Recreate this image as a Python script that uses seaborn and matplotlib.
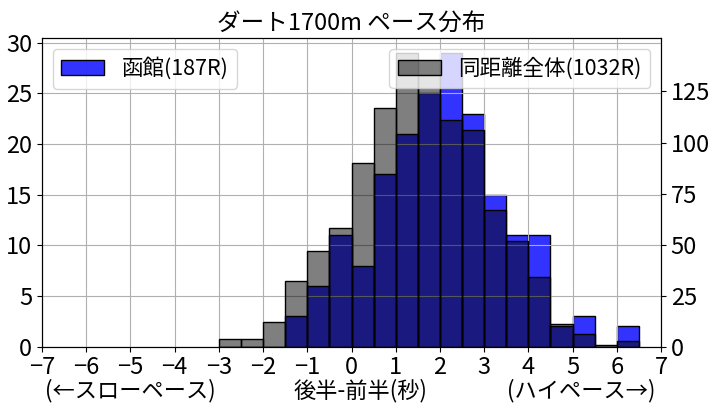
import numpy as np
import pandas as pd
import matplotlib
matplotlib.use("Agg")
import matplotlib.pyplot as plt
import seaborn as sns

# histogram bins (seconds, 後半-前半): width 0.5 from -3 to 6.5
bin_start = -3.0
bin_end = 6.5
bin_width = 0.5
# 函館 (187R) counts per bin
hakodate_counts = [0, 0, 0, 3, 6, 11, 8, 17, 21, 25, 29, 23, 15, 11, 11, 2, 3, 0, 2]
# 同距離全体 (1032R) counts per bin
all_counts = [4, 4, 12, 32, 47, 58, 90, 117, 144, 133, 111, 106, 67, 52, 34, 11, 6, 1, 3]

label_local = "函館(187R)"
label_all = "同距離全体(1032R)"
title = "ダート1700m ペース分布"
xlabel_mid = "後半-前半(秒)"
xlabel_left = "(←スローペース)"
xlabel_right = "(ハイペース→)"
xticks = list(range(-7, 8))
left_ticks = [0, 5, 10, 15, 20, 25, 30]
right_ticks = [0, 25, 50, 75, 100, 125]

fams = ['Liberation Sans Narrow', 'Noto Sans CJK JP', 'DejaVu Sans']
plt.rcParams['font.family'] = fams
plt.rcParams['axes.unicode_minus'] = True

n_bins = len(hakodate_counts)
centers = [bin_start + bin_width * (i + 0.5) for i in range(n_bins)]
df_local = pd.DataFrame({"x": centers, "w": hakodate_counts})
df_all = pd.DataFrame({"x": centers, "w": all_counts})

fig = plt.figure(figsize=(7.11, 4.12), dpi=100)
ax = fig.add_axes([42/711, 1-346.7/412, (661-42)/711, (346.7-38)/412])

sns.histplot(data=df_local, x="x", weights="w", binwidth=bin_width,
             binrange=(bin_start, bin_end), ax=ax,
             color="blue", alpha=0.8, edgecolor="black", linewidth=1.0,
             label=label_local)
ax2 = ax.twinx()
sns.histplot(data=df_all, x="x", weights="w", binwidth=bin_width,
             binrange=(bin_start, bin_end), ax=ax2,
             color="black", alpha=0.5, edgecolor="black", linewidth=1.0,
             label=label_all)

ax.set_xlim(-7, 7)
ax.set_ylim(0, max(hakodate_counts) * 1.05)
ax2.set_ylim(0, max(all_counts) * 1.05)
ax.set_xticks(xticks)
ax.set_yticks(left_ticks)
ax2.set_yticks(right_ticks)
ax.set_xlabel("")
ax.set_ylabel("")
ax2.set_ylabel("")
ax.grid(True, color="#b0b0b0", linewidth=0.8)
ax.set_axisbelow(False)

tick_fs = 17
ax.tick_params(labelsize=tick_fs)
ax2.tick_params(labelsize=tick_fs)

ax.set_title(title, fontsize=17, pad=6)

leg_fs = 15.5
ax.legend(loc="upper left", fontsize=leg_fs)
ax2.legend(loc="upper right", fontsize=leg_fs)

fig.text(45/711, 1-391/412, xlabel_left, fontsize=16, ha="left", va="center")
fig.text(360/711, 1-391/412, xlabel_mid, fontsize=16, ha="center", va="center")
fig.text(655/711, 1-391/412, xlabel_right, fontsize=16, ha="right", va="center")

fig.savefig("out.png", dpi=100)
